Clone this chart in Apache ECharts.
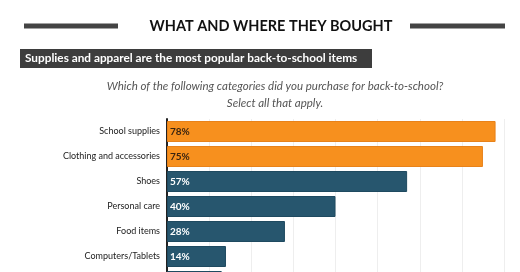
<!DOCTYPE html>
<html><head><meta charset="utf-8">
<script src="https://cdn.jsdelivr.net/npm/echarts@6/dist/echarts.min.js"></script>
<style>html,body{margin:0;padding:0;background:#fff}#c{width:520px;height:272px}</style>
</head><body><div id="c"></div>
<script>
var categories = ['School supplies','Clothing and accessories','Shoes','Personal care','Food items','Computers/Tablets','Other'];
var values = [78, 75, 57, 40, 28, 14, 13];
var highlighted = [true, true, false, false, false, false, false];
var xTicks = [0, 10, 20, 30, 40, 50, 60, 70, 80];

var chart = echarts.init(document.getElementById('c'), null, {renderer:'canvas'});
var ORANGE = '#F7901E', BLUE = '#27566E';
var FONT = 'Lato, "Open Sans", sans-serif';
chart.setOption({
  animation:false,
  backgroundColor:'#fff',
  graphic:[
    {type:'rect', shape:{x:24,y:23.5,width:94,height:5}, style:{fill:'#444'}},
    {type:'rect', shape:{x:410,y:23.5,width:95,height:5}, style:{fill:'#444'}},
    {type:'text', x:271, y:26, style:{text:'WHAT AND WHERE THEY BOUGHT', fill:'#111', font:'bold 14.5px '+FONT, textAlign:'center', textVerticalAlign:'middle'}},
    {type:'rect', shape:{x:20,y:49,width:352,height:19}, style:{fill:'#3d3d3d'}},
    {type:'text', x:25, y:58.5, style:{text:'Supplies and apparel are the most popular back-to-school items', fill:'#fff', font:'bold 11.8px '+FONT, textVerticalAlign:'middle'}},
    {type:'text', x:275, y:86, style:{text:'Which of the following categories did you purchase for back-to-school?', fill:'#555', font:'italic 11.5px '+FONT, textAlign:'center', textVerticalAlign:'middle'}},
    {type:'text', x:275, y:103, style:{text:'Select all that apply.', fill:'#555', font:'italic 11.5px '+FONT, textAlign:'center', textVerticalAlign:'middle'}}
  ],
  grid:{left:167, top:119, height:175, width:337, containLabel:false, outerBoundsMode:'none'},
  xAxis:{type:'value', min:0, max:80, interval:10,
    axisLabel:{show:false}, axisTick:{show:false}, axisLine:{show:false},
    splitLine:{show:true, lineStyle:{color:'#eeeeee', width:1}}},
  yAxis:{type:'category', data:categories, inverse:true,
    axisTick:{show:false},
    axisLine:{show:true, lineStyle:{color:'#222', width:2}},
    axisLabel:{color:'#222', fontFamily:FONT, fontSize:9, margin:7}},
  series:[{type:'bar', barCategoryGap:'16%',
    data: values.map(function(v,i){return {value:v, itemStyle:{color: highlighted[i]?ORANGE:BLUE, borderColor: highlighted[i]?'#e8821a':'#1f4a60', borderWidth:1}, label:{color: highlighted[i]?'#3a2410':'#fff'}};}),
    label:{show:true, position:'insideLeft', distance:3, fontFamily:FONT, fontWeight:'bold', fontSize:10, formatter:'{c}%'}
  }]
});
</script></body></html>
